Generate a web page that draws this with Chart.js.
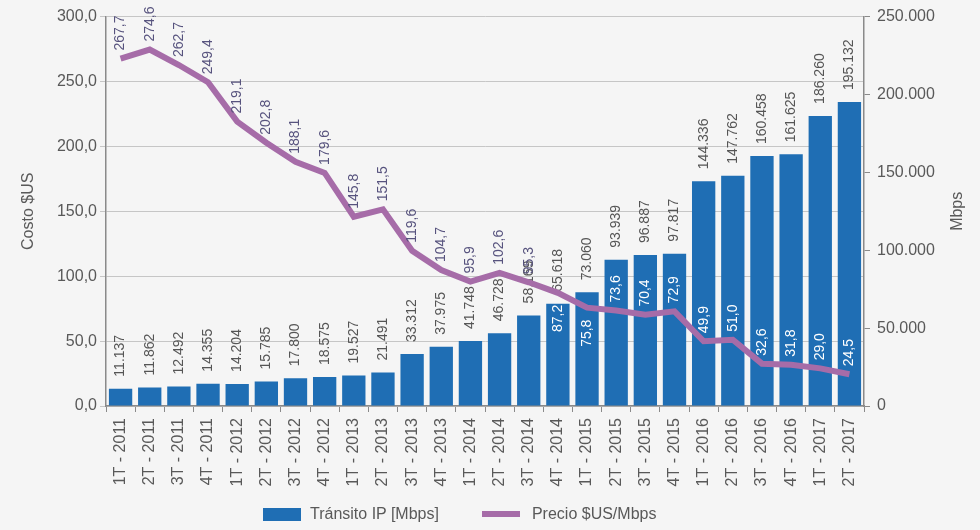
<!DOCTYPE html>
<html>
<head>
<meta charset="utf-8">
<script src="https://cdn.jsdelivr.net/npm/chart.js@4.4.1/dist/chart.umd.min.js"></script>
<style>
  html, body { margin: 0; padding: 0; background: #f5f5f5; }
  #wrap { position: relative; width: 980px; height: 530px; }
  #legend { position: absolute; left: 263px; top: 505px; display: flex; align-items: center;
    font: 16px 'Liberation Sans', Arial, sans-serif; color: #595959; line-height: 18px; }
  .sw { display: inline-block; width: 38px; }
</style>
</head>
<body>
<div id="wrap">
  <canvas id="chart" width="980" height="530"></canvas>
  <div id="legend">
    <span class="sw" style="height:13px;background:#1f6eb4"></span>
    <span style="margin-left:9px">Tránsito IP [Mbps]</span>
    <span class="sw" style="height:6px;background:#a66ca8;margin-left:43px"></span>
    <span style="margin-left:12px">Precio $US/Mbps</span>
  </div>
</div>
<script>
const periods = ['1T - 2011', '2T - 2011', '3T - 2011', '4T - 2011', '1T - 2012', '2T - 2012', '3T - 2012', '4T - 2012',
  '1T - 2013', '2T - 2013', '3T - 2013', '4T - 2013', '1T - 2014', '2T - 2014', '3T - 2014', '4T - 2014',
  '1T - 2015', '2T - 2015', '3T - 2015', '4T - 2015', '1T - 2016', '2T - 2016', '3T - 2016', '4T - 2016',
  '1T - 2017', '2T - 2017'];
const transitoMbps = [11137, 11862, 12492, 14355, 14204, 15785, 17800, 18575, 19527, 21491, 33312, 37975, 41748,
  46728, 58169, 65618, 73060, 93939, 96887, 97817, 144336, 147762, 160458, 161625, 186260, 195132];
const precioUsMbps = [267.7, 274.6, 262.7, 249.4, 219.1, 202.8, 188.1, 179.6, 145.8, 151.5, 119.6, 104.7, 95.9,
  102.6, 95.3, 87.2, 75.8, 73.6, 70.4, 72.9, 49.9, 51.0, 32.6, 31.8, 29.0, 24.5];
// puntos cuya etiqueta va debajo de la línea
const labelsBelow = [15, 16];
const rightTitle = 'Mbps';

const FONT = "'Liberation Sans', Arial, sans-serif";
const axisGray = '#8a8a8a';
const textGray = '#595959';

const fmtDec = v => v.toFixed(1).replace('.', ',');
const fmtThousands = v => String(Math.round(v)).replace(/\B(?=(\d{3})+(?!\d))/g, '.');

Chart.defaults.font.family = FONT;
Chart.defaults.color = textGray;

const rotatedText = (ctx, text, x, y, align, color) => {
  ctx.save();
  ctx.translate(x, y);
  ctx.rotate(-Math.PI / 2);
  ctx.textAlign = align;
  ctx.textBaseline = 'middle';
  ctx.fillStyle = color;
  ctx.fillText(text, 0, 0);
  ctx.restore();
};

const valueLabels = {
  id: 'valueLabels',
  afterDatasetDraw(chart, args) {
    const ctx = chart.ctx;
    ctx.font = '14px ' + FONT;
    const meta = args.meta;
    if (meta.type === 'bar') {
      meta.data.forEach((el, i) => rotatedText(ctx, fmtThousands(transitoMbps[i]), el.x, el.y - 12, 'left', '#555555'));
    } else {
      const bars = chart.getDatasetMeta(0).data;
      meta.data.forEach((el, i) => {
        const txt = fmtDec(precioUsMbps[i]);
        if (labelsBelow.includes(i)) {
          rotatedText(ctx, txt, el.x, el.y + 12, 'right', '#ffffff');
        } else {
          const top = el.y - 8 - ctx.measureText(txt).width;
          rotatedText(ctx, txt, el.x, el.y - 8, 'left', top >= bars[i].y ? '#ffffff' : '#57537e');
        }
      });
    }
  },
  // título del eje derecho, leído de abajo hacia arriba
  afterDraw(chart) {
    const s = chart.scales.y1;
    chart.ctx.font = '16px ' + FONT;
    rotatedText(chart.ctx, rightTitle, s.right - 22, (chart.chartArea.top + chart.chartArea.bottom) / 2, 'center', textGray);
  }
};

new Chart(document.getElementById('chart'), {
  type: 'bar',
  data: {
    labels: periods,
    datasets: [
      { label: 'Tránsito IP [Mbps]', data: transitoMbps, yAxisID: 'y1', backgroundColor: '#1f6eb4',
        barPercentage: 0.8, categoryPercentage: 1, order: 1 },
      { label: 'Precio $US/Mbps', data: precioUsMbps, type: 'line', yAxisID: 'y', borderColor: '#a66ca8',
        backgroundColor: '#a66ca8', borderWidth: 6, pointRadius: 0, tension: 0, order: 0 },
    ],
  },
  options: {
    responsive: false,
    animation: false,
    layout: { padding: { top: 15, left: 0, right: 0, bottom: 0 } },
    plugins: { legend: { display: false }, tooltip: { enabled: false } },
    scales: {
      x: {
        grid: { drawOnChartArea: false, drawTicks: true, tickLength: 6, color: axisGray, offset: true },
        border: { color: axisGray, width: 1.5 },
        ticks: { minRotation: 90, maxRotation: 90, autoSkip: false, padding: 6, color: textGray, font: { size: 16 } },
        afterFit: s => { s.height = 124; },
      },
      y: {
        position: 'left', min: 0, max: 300,
        grid: { color: '#c6c6c6', tickLength: 6 },
        border: { color: axisGray, width: 1.5 },
        ticks: { stepSize: 50, padding: 3, color: textGray, font: { size: 16 }, callback: v => fmtDec(v) },
        title: { display: true, text: 'Costo $US', color: textGray, font: { size: 16 }, padding: { top: 19, bottom: 0 } },
        afterFit: s => { s.width = 106; },
      },
      y1: {
        position: 'right', min: 0, max: 250000,
        grid: { drawOnChartArea: false, tickLength: 6, color: axisGray },
        border: { color: axisGray, width: 1.5 },
        ticks: { stepSize: 50000, padding: 7, color: textGray, font: { size: 16 }, callback: v => fmtThousands(v) },
        afterFit: s => { s.width = 116; },
      },
    },
  },
  plugins: [valueLabels],
});
</script>
</body>
</html>
